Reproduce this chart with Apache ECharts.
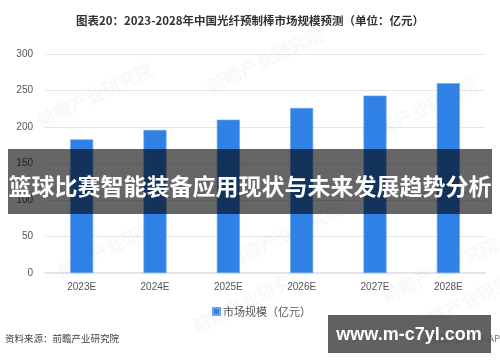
<!DOCTYPE html>
<html>
<head>
<meta charset="utf-8">
<script src="https://cdn.jsdelivr.net/npm/echarts@6/dist/echarts.min.js"></script>
<style>
html,body{margin:0;padding:0;background:#fff;}
#c{width:500px;height:362px;}
</style>
</head>
<body>
<div id="c"></div>
<script>
var categories = ['2023E', '2024E', '2025E', '2026E', '2027E', '2028E'];
var marketSize = [183, 196, 210, 226, 243, 260];
var yTicks = [0, 50, 100, 150, 200, 250, 300];
var seriesName = '市场规模（亿元）';
var titleText = '图表20：2023-2028年中国光纤预制棒市场规模预测（单位：亿元）';
var sourceText = '资料来源：前瞻产业研究院';
var bannerText = '篮球比赛智能装备应用现状与未来发展趋势分析';
var badgeText = 'www.m-c7yl.com';

var FONT = "'Liberation Sans', 'Noto Sans CJK SC', sans-serif";
var chart = echarts.init(document.getElementById('c'), null, {renderer: 'canvas'});

var watermarks = [[95, 95], [115, 245], [265, 60], [285, 235], [420, 110], [440, 270], [250, 300], [470, 300]].map(function (p) {
  return {
    type: 'text', x: p[0], y: p[1], rotation: Math.PI / 7, z: 1, silent: true,
    style: {text: '前瞻产业研究院', fill: 'rgba(120,130,140,0.06)', font: "bold 18px 'Noto Sans CJK SC'", align: 'center', verticalAlign: 'middle'}
  };
});

chart.setOption({
  animation: false,
  textStyle: {fontFamily: FONT},
  grid: {left: 45, right: 15, top: 54, bottom: 89, containLabel: false},
  legend: {
    data: [seriesName], left: 207, top: 301, itemWidth: 7, itemHeight: 7, itemGap: 4,
    icon: 'rect',
    textStyle: {fontSize: 11, color: '#555', fontFamily: "'Noto Sans CJK SC'", padding: [0, 0, 0, -2]}
  },
  xAxis: {
    type: 'category', data: categories,
    axisLine: {lineStyle: {color: '#e2e4ea', width: 2}},
    axisTick: {show: false},
    axisLabel: {color: '#555', fontSize: 10, margin: 9}
  },
  yAxis: {
    type: 'value', min: yTicks[0], max: yTicks[yTicks.length - 1], interval: yTicks[1] - yTicks[0],
    axisLine: {show: false}, axisTick: {show: false},
    axisLabel: {color: '#555', fontSize: 10, margin: 12},
    splitLine: {lineStyle: {color: '#e6e6e6', width: 1}}
  },
  series: [{
    name: seriesName, type: 'bar', data: marketSize, barWidth: 23,
    itemStyle: {color: '#3081e6', borderColor: '#6aa6ef', borderWidth: 0.6}
  }],
  graphic: watermarks.concat([
    {type: 'text', x: 250, y: 21, z: 50, style: {text: titleText, fill: '#333', font: "bold 11.5px 'Noto Sans CJK SC'", align: 'center', verticalAlign: 'middle'}},
    {type: 'text', x: 5, y: 338, z: 50, style: {text: sourceText, fill: '#444', font: "9.5px 'Noto Sans CJK SC'", align: 'left', verticalAlign: 'middle'}},
    {type: 'text', x: 506, y: 338, z: 50, style: {text: '@前瞻经济学人APP', fill: '#777', font: "9.5px 'Noto Sans CJK SC'", align: 'right', verticalAlign: 'middle'}},
    {type: 'rect', z: 100, shape: {x: 8, y: 149, width: 484, height: 65}, style: {fill: 'rgba(0,0,0,0.6)'}},
    {type: 'text', x: 250, y: 186, z: 101, style: {text: bannerText, fill: '#fff', font: "bold 23px 'Noto Sans CJK SC'", align: 'center', verticalAlign: 'middle'}},
    {type: 'rect', z: 100, shape: {x: 328, y: 315, width: 163, height: 38}, style: {fill: 'rgba(80,80,80,0.9)'}},
    {type: 'text', x: 409, y: 335, z: 101, style: {text: badgeText, fill: '#fff', font: "bold 18px 'Liberation Sans'", align: 'center', verticalAlign: 'middle'}}
  ])
});
</script>
</body>
</html>
